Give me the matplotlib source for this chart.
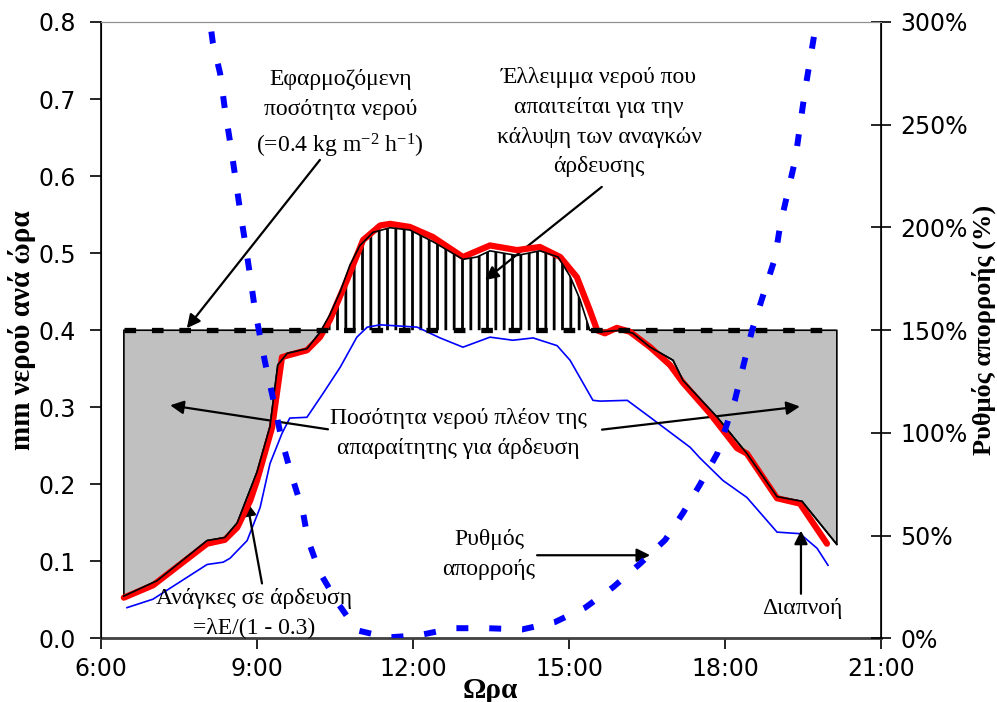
import matplotlib
matplotlib.use('Agg')
import matplotlib.pyplot as plt
import numpy as np

plt.rcParams['hatch.linewidth'] = 2.0
plt.rcParams['mathtext.fontset'] = 'custom'
plt.rcParams['mathtext.rm'] = 'Liberation Serif'
plt.rcParams['mathtext.it'] = 'Liberation Serif:italic'
plt.rcParams['font.family'] = ['DejaVu Sans']

# ---------------- data ----------------
# irrigation need (black line, boundary of shaded areas), hours / mm per hour
need_t = [6.44, 7.08, 8.04, 8.38, 8.62, 9.00, 9.25, 9.40, 9.58, 9.96, 10.21, 10.40,
          10.60, 10.79, 10.98, 11.23, 11.56, 11.94, 12.38, 12.96, 13.23, 13.48, 14.00,
          14.44, 14.79, 15.02, 15.21, 15.40, 15.60, 16.02, 16.23, 16.56, 17.00, 17.19,
          17.85, 18.42, 19.00, 19.48, 20.15]
need_v = [0.055, 0.075, 0.127, 0.131, 0.150, 0.216, 0.275, 0.355, 0.370, 0.376, 0.397, 0.420,
          0.450, 0.485, 0.510, 0.527, 0.533, 0.530, 0.515, 0.492, 0.495, 0.503, 0.497,
          0.503, 0.495, 0.470, 0.440, 0.400, 0.398, 0.400, 0.396, 0.378, 0.361, 0.335,
          0.287, 0.240, 0.184, 0.178, 0.122]

# irrigation need = lambdaE/(1-0.3) (thick red line)
red_t = [6.44, 7.00, 8.04, 8.38, 8.62, 8.87, 9.00, 9.29, 9.48, 9.63, 9.96, 10.21, 10.40,
         10.73, 11.04, 11.37, 11.56, 11.94, 12.38, 12.96, 13.48, 14.00, 14.44, 14.83,
         15.15, 15.40, 15.54, 15.69, 15.92, 16.17, 16.56, 16.94, 17.19, 17.71, 18.23,
         18.42, 19.00, 19.44, 19.96]
red_v = [0.053, 0.069, 0.123, 0.128, 0.144, 0.179, 0.205, 0.274, 0.365, 0.368, 0.374, 0.391, 0.413,
         0.465, 0.517, 0.536, 0.538, 0.534, 0.521, 0.495, 0.510, 0.504, 0.508, 0.495,
         0.469, 0.426, 0.400, 0.396, 0.403, 0.398, 0.378, 0.355, 0.332, 0.292, 0.247,
         0.240, 0.182, 0.175, 0.123]

# transpiration (thin blue line)
tr_t = [6.50, 7.00, 8.04, 8.35, 8.48, 8.81, 9.06, 9.25, 9.48, 9.63, 9.96, 10.27, 10.60,
        10.92, 11.12, 11.37, 12.08, 12.52, 12.96, 13.48, 13.92, 14.31, 14.77, 15.02,
        15.46, 15.60, 16.12, 16.56, 17.33, 17.52, 17.96, 18.42, 19.00, 19.44, 19.77, 19.98]
tr_v = [0.040, 0.051, 0.096, 0.099, 0.104, 0.127, 0.170, 0.227, 0.266, 0.286, 0.287, 0.318, 0.352,
        0.391, 0.404, 0.407, 0.404, 0.390, 0.378, 0.391, 0.387, 0.390, 0.380, 0.361,
        0.309, 0.308, 0.309, 0.287, 0.248, 0.234, 0.205, 0.183, 0.138, 0.136, 0.117, 0.095]

# drainage rate (%) (blue dashed line, right axis)
dr_t = [8.02, 8.15, 8.29, 8.38, 8.48, 8.58, 8.67, 8.77, 8.87, 8.96, 9.15, 9.35, 9.48, 9.67,
        9.88, 9.98, 10.21, 10.56, 10.92, 11.50, 12.10, 12.77, 13.42, 14.10, 14.73, 15.31,
        15.85, 16.37, 16.85, 17.19, 17.52, 17.85, 18.19, 18.52, 18.77, 18.96, 19.06, 19.35,
        19.54, 19.73, 19.83]
dr_v = [315, 290, 275, 258, 242, 225, 209, 193, 176, 160, 135, 112, 96, 79,
        62, 48, 32, 17, 4, 0.5, 1.5, 5, 5, 4.4, 8, 15,
        25, 36.5, 48, 61, 75, 90, 116, 150, 170, 185, 201, 233,
        267, 296, 310]

# applied water amount
applied_t = [6.45, 20.15]
applied_v = [0.4, 0.4]

x_ticks = [6, 9, 12, 15, 18, 21]
x_labels = ['6:00', '9:00', '12:00', '15:00', '18:00', '21:00']
y_ticks = [0.0, 0.1, 0.2, 0.3, 0.4, 0.5, 0.6, 0.7, 0.8]
y2_ticks = [0, 50, 100, 150, 200, 250, 300]

# ---------------- figure ----------------
fig = plt.figure(figsize=(9.97, 7.02), dpi=100)
ax = fig.add_axes([0.1013, 0.0905, 0.7824, 0.8782])
ax.set_xlim(6, 21)
ax.set_ylim(0, 0.8)

nt = np.array(need_t)
nv = np.array(need_v)
ap = applied_v[0]
ax.fill_between(nt, nv, ap, where=nv <= ap, interpolate=True,
                facecolor='#C0C0C0', edgecolor='black', lw=1.2, zorder=1)
ax.fill_between(nt, nv, ap, where=nv >= ap, interpolate=True,
                facecolor='white', edgecolor='black', hatch='||', lw=0, zorder=1)

ax.plot(tr_t, tr_v, color='#0000FF', lw=1.2, zorder=3)
ax.plot(red_t, red_v, color='#FF0000', lw=4.5, solid_capstyle='round', zorder=4)
ax.plot(need_t, need_v, color='black', lw=1.2, zorder=5)
ax.plot(applied_t, applied_v, color='black', lw=3.8, dashes=(2.2, 3.0), zorder=6)

ax.set_xticks(x_ticks)
ax.set_xticklabels(x_labels)
ax.set_yticks(y_ticks)
ax.set_yticklabels(['%.1f' % v for v in y_ticks])
ax.tick_params(axis='both', direction='out', length=8, width=1.2, labelsize=17, colors='black')
ax.tick_params(axis='x', pad=5)
ax.tick_params(axis='y', pad=10)
ax.spines['top'].set_color('#909090')
ax.spines['left'].set_linewidth(1.2)
ax.spines['bottom'].set_linewidth(2.0)
ax.spines['bottom'].set_color('#404040')

ax2 = ax.twinx()
ax2.set_ylim(0, 300)
ax2.plot(dr_t, dr_v, color='#0000FF', lw=4.3, dashes=(2.0, 3.5), zorder=2)
ax2.set_yticks(y2_ticks)
ax2.set_yticklabels(['%d%%' % v for v in y2_ticks])
ax2.tick_params(axis='y', direction='inout', length=14, width=1.2, labelsize=17, pad=7)
ax2.spines['top'].set_color('#909090')
ax2.spines['right'].set_linewidth(1.2)
ax2.spines['bottom'].set_visible(False)

serif = ['Liberation Serif', 'DejaVu Serif']
ax.set_ylabel('mm νερού ανά ώρα', family=serif, fontweight='bold', fontsize=21)
ax.yaxis.set_label_coords(-0.083, 0.5)
fig.text(490 / 997, 1 - 690 / 702, 'Ωρα', family=serif, fontweight='bold', fontsize=21,
         ha='center', va='center')
ax2.set_ylabel('Ρυθμός απορροής (%)', family=serif, fontweight='bold', fontsize=19)
ax2.yaxis.set_label_coords(1.1155, 0.5)

arrow = dict(arrowstyle='-|>', color='black', lw=1.6, mutation_scale=20, shrinkA=0, shrinkB=0)
tk = dict(family=serif, fontsize=17, ha='center', va='center', linespacing=1.55)

ax.text(10.6, 0.680, 'Εφαρμοζόμενη\nποσότητα νερού\n(=0.4 kg m$^{-2}$ h$^{-1}$)', **tk)
ax.annotate('', xy=(7.65, 0.4026), xytext=(10.21, 0.621), arrowprops=arrow)

ax.text(15.58, 0.670, 'Έλλειμμα νερού που\nαπαιτείται για την\nκάλυψη των αναγκών\nάρδευσης', **tk)
ax.annotate('', xy=(13.385, 0.465), xytext=(15.63, 0.586), arrowprops=arrow)

ax.text(12.865, 0.266, 'Ποσότητα νερού πλέον της\nαπαραίτητης για άρδευση', **tk)
ax.annotate('', xy=(7.33, 0.3026), xytext=(10.365, 0.2714), arrowprops=arrow)
ax.annotate('', xy=(19.44, 0.301), xytext=(15.635, 0.271), arrowprops=arrow)

ax.text(8.94, 0.0325, 'Ανάγκες σε άρδευση\n=λE/(1 - 0.3)', **tk)
ax.annotate('', xy=(8.808, 0.177), xytext=(9.096, 0.0714), arrowprops=arrow)

ax.text(13.46, 0.109, 'Ρυθμός\nαπορροής', **tk)
ax.annotate('', xy=(16.56, 0.108), xytext=(14.385, 0.108), arrowprops=arrow)

ax.text(19.48, 0.039, 'Διαπνοή', **tk)
ax.annotate('', xy=(19.46, 0.140), xytext=(19.46, 0.058), arrowprops=arrow)

fig.savefig('out.png', dpi=100)
